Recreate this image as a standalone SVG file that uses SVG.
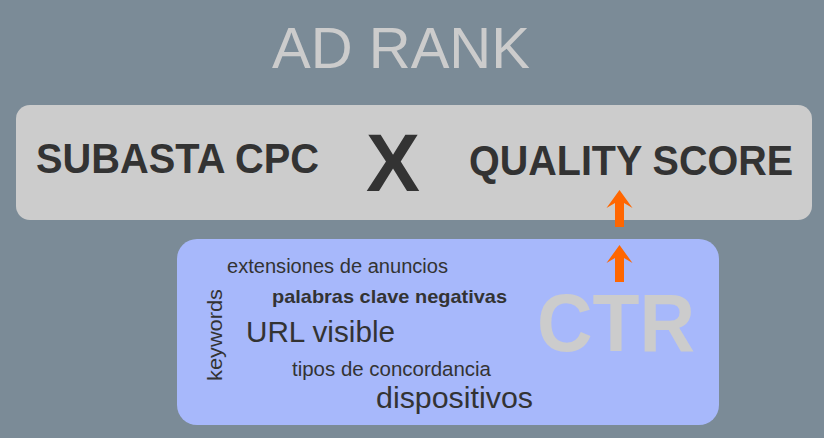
<svg xmlns="http://www.w3.org/2000/svg" width="824" height="438" viewBox="0 0 824 438">
<style>
.t{font-family:"Liberation Sans",Arial,Helvetica,sans-serif;fill:#333333}
.b{font-weight:bold}
.lg{fill:#cccccc}
.arr{fill:#ff6600}
</style>
<defs>
<path id="arrowShape" d="M619.5,190 L632.5,208 L624,203 L624,227 L615,227 L615,203 L606.5,208 Z"/>
</defs>
<rect width="824" height="438" fill="#7b8b97"/>
<g id="title">
<text class="t lg" x="272" y="68" font-size="57" textLength="258" lengthAdjust="spacingAndGlyphs">AD RANK</text>
</g>
<g id="adrank-box">
<rect x="16" y="105" width="796" height="115" rx="14" fill="#cccccc"/>
<text class="t b" x="36" y="173" font-size="42" textLength="283" lengthAdjust="spacingAndGlyphs">SUBASTA CPC</text>
<text class="t b" x="366" y="191" font-size="81" textLength="54" lengthAdjust="spacingAndGlyphs">X</text>
<text class="t b" x="469" y="175" font-size="42" textLength="324" lengthAdjust="spacingAndGlyphs">QUALITY SCORE</text>
</g>
<g id="ctr-box">
<rect x="177" y="239" width="542" height="186" rx="20" fill="#a7b8fb"/>
<text class="t" x="227" y="273" font-size="20" textLength="221" lengthAdjust="spacingAndGlyphs">extensiones de anuncios</text>
<text class="t b" x="272" y="303" font-size="19" textLength="235" lengthAdjust="spacingAndGlyphs">palabras clave negativas</text>
<text class="t" x="246" y="342" font-size="29" textLength="149" lengthAdjust="spacingAndGlyphs">URL visible</text>
<text class="t" x="292" y="376" font-size="20.5" textLength="199" lengthAdjust="spacingAndGlyphs">tipos de concordancia</text>
<text class="t" x="376" y="408" font-size="30" textLength="157" lengthAdjust="spacingAndGlyphs">dispositivos</text>
<text class="t" transform="translate(222,381) rotate(-90)" font-size="21" textLength="92" lengthAdjust="spacingAndGlyphs">keywords</text>
<text class="t b lg" x="537" y="351" font-size="82" textLength="158" lengthAdjust="spacingAndGlyphs">CTR</text>
</g>
<g id="connectors">
<use href="#arrowShape" class="arr"/>
<use href="#arrowShape" class="arr" transform="translate(0,55)"/>
</g>
</svg>
